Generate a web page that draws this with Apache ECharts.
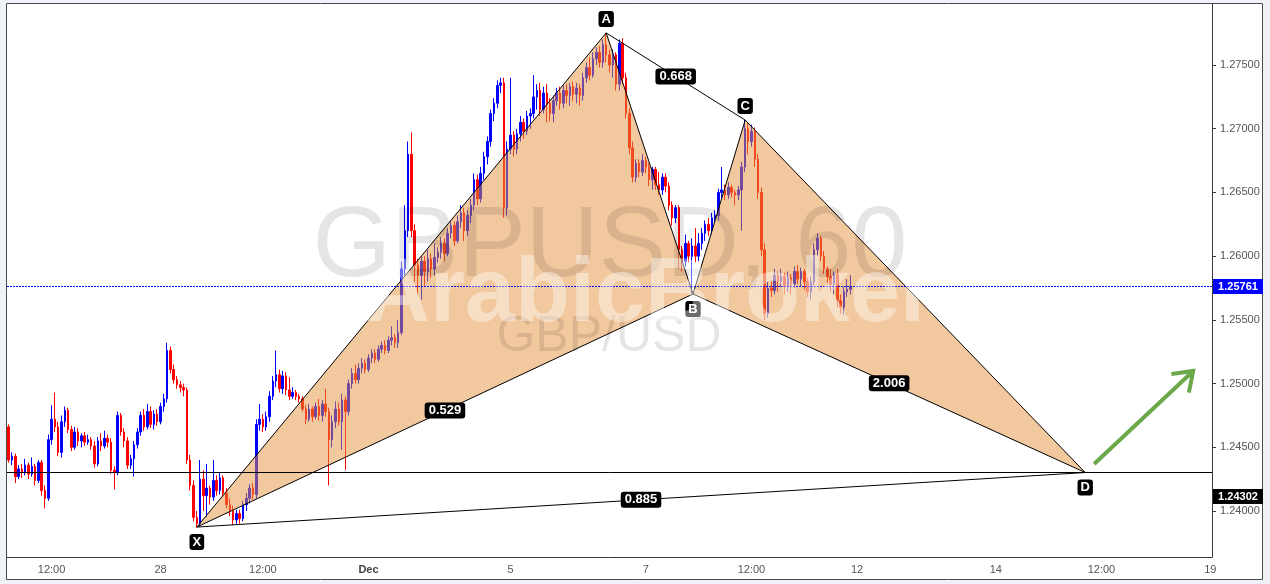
<!DOCTYPE html>
<html><head><meta charset="utf-8">
<script src="https://cdn.jsdelivr.net/npm/echarts@6/dist/echarts.min.js"></script>
<style>html,body{margin:0;padding:0;background:#eff2f6;}#c{width:1270px;height:584px;}</style>
</head><body><div id="c"></div>
<script>
// ---------- data ----------
const slotCount = 365;
const categories = Array.from({length: slotCount}, (_, i) => String(i));
const tickIndex  = [13, 46, 77, 109, 152, 193, 225, 257, 299, 331, 364];
const tickLabels = ['12:00', '28', '12:00', 'Dec', '5', '7', '12:00', '12', '14', '12:00', '19'];
const priceTicks = [1.240, 1.245, 1.250, 1.255, 1.260, 1.265, 1.270, 1.275];
const priceMin = 1.23639, priceMax = 1.27979;
const lastPrice = 1.25761;
const levelD = 1.24302;
// candles: [open, close, low, high]
const candles = [
[1.2466,1.2440,1.2438,1.2468],[1.2440,1.2443,1.2436,1.2446],[1.2443,1.2427,1.2422,1.2445],[1.2427,1.2433,1.2425,1.2436],[1.2433,1.2430,1.2426,1.2437],
[1.2430,1.2436,1.2428,1.2441],[1.2436,1.2429,1.2425,1.2438],[1.2429,1.2435,1.2427,1.2442],[1.2435,1.2424,1.2420,1.2437],[1.2424,1.2438,1.2422,1.2440],
[1.2438,1.2416,1.2412,1.2440],[1.2416,1.2410,1.2402,1.2420],[1.2410,1.2456,1.2408,1.2460],[1.2456,1.2472,1.2452,1.2483],[1.2472,1.2466,1.2462,1.2493],
[1.2466,1.2446,1.2443,1.2470],[1.2446,1.2470,1.2442,1.2475],[1.2470,1.2479,1.2466,1.2482],[1.2479,1.2464,1.2461,1.2481],[1.2464,1.2450,1.2447,1.2467],
[1.2450,1.2462,1.2448,1.2466],[1.2462,1.2455,1.2451,1.2465],[1.2455,1.2459,1.2450,1.2461],[1.2459,1.2454,1.2451,1.2462],[1.2454,1.2456,1.2452,1.2460],
[1.2456,1.2451,1.2448,1.2458],[1.2451,1.2437,1.2434,1.2455],[1.2437,1.2455,1.2435,1.2458],[1.2455,1.2451,1.2447,1.2461],[1.2451,1.2457,1.2449,1.2463],
[1.2457,1.2454,1.2450,1.2460],[1.2454,1.2432,1.2429,1.2457],[1.2432,1.2430,1.2417,1.2435],[1.2430,1.2475,1.2428,1.2478],[1.2475,1.2462,1.2459,1.2477],
[1.2462,1.2455,1.2450,1.2465],[1.2455,1.2436,1.2433,1.2458],[1.2436,1.2441,1.2433,1.2444],[1.2441,1.2452,1.2427,1.2455],[1.2452,1.2462,1.2449,1.2465],
[1.2462,1.2475,1.2459,1.2478],[1.2475,1.2466,1.2463,1.2480],[1.2466,1.2478,1.2464,1.2484],[1.2478,1.2468,1.2465,1.2482],[1.2468,1.2476,1.2464,1.2479],
[1.2476,1.2470,1.2467,1.2480],[1.2470,1.2482,1.2468,1.2485],[1.2482,1.2488,1.2478,1.2492],[1.2488,1.2526,1.2485,1.2532],[1.2526,1.2511,1.2508,1.2529],
[1.2511,1.2503,1.2500,1.2515],[1.2503,1.2499,1.2496,1.2506],[1.2499,1.2497,1.2493,1.2502],[1.2497,1.2495,1.2490,1.2500],[1.2495,1.2440,1.2437,1.2497],
[1.2440,1.2420,1.2416,1.2444],[1.2420,1.2395,1.2392,1.2424],[1.2395,1.2390,1.2387,1.2400],[1.2390,1.2425,1.2388,1.2440],[1.2425,1.2412,1.2400,1.2432],
[1.2412,1.2418,1.2395,1.2437],[1.2418,1.2411,1.2405,1.2420],[1.2411,1.2424,1.2408,1.2440],[1.2424,1.2416,1.2412,1.2428],[1.2416,1.2426,1.2413,1.2430],
[1.2426,1.2414,1.2411,1.2428],[1.2414,1.2405,1.2402,1.2418],[1.2405,1.2400,1.2396,1.2410],[1.2400,1.2393,1.2389,1.2404],[1.2393,1.2398,1.2390,1.2401],
[1.2398,1.2394,1.2390,1.2401],[1.2394,1.2405,1.2392,1.2408],[1.2405,1.2410,1.2400,1.2414],[1.2410,1.2418,1.2406,1.2421],[1.2418,1.2413,1.2409,1.2422],
[1.2413,1.2468,1.2410,1.2472],[1.2468,1.2472,1.2463,1.2484],[1.2472,1.2466,1.2462,1.2476],[1.2466,1.2474,1.2463,1.2478],[1.2474,1.2490,1.2470,1.2494],
[1.2490,1.2502,1.2487,1.2506],[1.2502,1.2507,1.2497,1.2526],[1.2507,1.2496,1.2493,1.2511],[1.2496,1.2506,1.2492,1.2510],[1.2506,1.2495,1.2491,1.2509],
[1.2495,1.2490,1.2487,1.2505],[1.2490,1.2493,1.2488,1.2497],[1.2493,1.2490,1.2487,1.2495],[1.2490,1.2488,1.2485,1.2492],[1.2488,1.2480,1.2478,1.2490],
[1.2480,1.2472,1.2468,1.2483],[1.2472,1.2480,1.2470,1.2484],[1.2480,1.2474,1.2470,1.2482],[1.2474,1.2482,1.2472,1.2485],[1.2482,1.2475,1.2471,1.2488],
[1.2475,1.2484,1.2470,1.2487],[1.2484,1.2478,1.2474,1.2496],[1.2478,1.2456,1.2420,1.2481],[1.2456,1.2470,1.2450,1.2475],[1.2470,1.2480,1.2465,1.2486],
[1.2480,1.2470,1.2467,1.2485],[1.2470,1.2487,1.2448,1.2492],[1.2487,1.2478,1.2432,1.2490],[1.2478,1.2500,1.2475,1.2503],[1.2500,1.2508,1.2496,1.2512],
[1.2508,1.2503,1.2500,1.2515],[1.2503,1.2512,1.2500,1.2516],[1.2512,1.2516,1.2508,1.2520],[1.2516,1.2511,1.2508,1.2519],[1.2511,1.2520,1.2509,1.2523],
[1.2520,1.2524,1.2516,1.2527],[1.2524,1.2519,1.2516,1.2527],[1.2519,1.2527,1.2517,1.2530],[1.2527,1.2530,1.2524,1.2533],[1.2530,1.2526,1.2523,1.2534],
[1.2526,1.2534,1.2524,1.2537],[1.2534,1.2536,1.2530,1.2545],[1.2536,1.2532,1.2528,1.2539],[1.2532,1.2540,1.2528,1.2550],[1.2540,1.2590,1.2538,1.2596],
[1.2590,1.2620,1.2585,1.2640],[1.2620,1.2680,1.2615,1.2690],[1.2680,1.2620,1.2615,1.2697],[1.2620,1.2593,1.2580,1.2625],[1.2593,1.2585,1.2570,1.2598],
[1.2585,1.2596,1.2566,1.2600],[1.2596,1.2588,1.2577,1.2600],[1.2588,1.2598,1.2580,1.2605],[1.2598,1.2590,1.2583,1.2602],[1.2590,1.2599,1.2585,1.2610],
[1.2599,1.2603,1.2595,1.2607],[1.2603,1.2610,1.2598,1.2615],[1.2610,1.2602,1.2596,1.2614],[1.2602,1.2618,1.2600,1.2622],[1.2618,1.2624,1.2614,1.2628],
[1.2624,1.2612,1.2608,1.2627],[1.2612,1.2627,1.2610,1.2632],[1.2627,1.2634,1.2622,1.2640],[1.2634,1.2620,1.2612,1.2638],[1.2620,1.2632,1.2616,1.2636],
[1.2632,1.2640,1.2626,1.2645],[1.2640,1.2660,1.2636,1.2665],[1.2660,1.2645,1.2640,1.2664],[1.2645,1.2665,1.2642,1.2670],[1.2665,1.2678,1.2660,1.2682],
[1.2678,1.2690,1.2672,1.2694],[1.2690,1.2712,1.2686,1.2715],[1.2712,1.2720,1.2706,1.2724],[1.2720,1.2734,1.2716,1.2738],[1.2734,1.2736,1.2728,1.2740],
[1.2736,1.2638,1.2630,1.2740],[1.2638,1.2684,1.2632,1.2690],[1.2684,1.2695,1.2680,1.2740],[1.2695,1.2684,1.2678,1.2698],[1.2684,1.2696,1.2680,1.2700],
[1.2696,1.2705,1.2690,1.2710],[1.2705,1.2698,1.2692,1.2708],[1.2698,1.2710,1.2695,1.2714],[1.2710,1.2712,1.2700,1.2716],[1.2712,1.2725,1.2708,1.2742],
[1.2725,1.2730,1.2715,1.2735],[1.2730,1.2715,1.2710,1.2736],[1.2715,1.2728,1.2712,1.2733],[1.2728,1.2720,1.2705,1.2735],[1.2720,1.2712,1.2706,1.2724],
[1.2712,1.2722,1.2705,1.2726],[1.2722,1.2728,1.2718,1.2732],[1.2728,1.2720,1.2715,1.2733],[1.2720,1.2730,1.2716,1.2734],[1.2730,1.2726,1.2720,1.2735],
[1.2726,1.2733,1.2718,1.2736],[1.2733,1.2727,1.2722,1.2737],[1.2727,1.2732,1.2720,1.2736],[1.2732,1.2726,1.2718,1.2735],[1.2726,1.2740,1.2722,1.2744],
[1.2740,1.2748,1.2736,1.2752],[1.2748,1.2742,1.2738,1.2756],[1.2742,1.2755,1.2740,1.2760],[1.2755,1.2760,1.2750,1.2764],[1.2760,1.2752,1.2748,1.2765],
[1.2752,1.2766,1.2748,1.2770],[1.2766,1.2758,1.2752,1.2775],[1.2758,1.2750,1.2744,1.2762],[1.2750,1.2758,1.2740,1.2762],[1.2758,1.2735,1.2730,1.2760],
[1.2735,1.2767,1.2730,1.2770],[1.2767,1.2740,1.2735,1.2771],[1.2740,1.2712,1.2708,1.2744],[1.2712,1.2685,1.2680,1.2716],[1.2685,1.2662,1.2658,1.2690],
[1.2662,1.2673,1.2658,1.2676],[1.2673,1.2666,1.2662,1.2676],[1.2666,1.2675,1.2663,1.2680],[1.2675,1.2670,1.2665,1.2678],[1.2670,1.2660,1.2655,1.2673],
[1.2660,1.2668,1.2652,1.2670],[1.2668,1.2656,1.2652,1.2670],[1.2656,1.2652,1.2648,1.2666],[1.2652,1.2662,1.2648,1.2665],[1.2662,1.2655,1.2650,1.2665],
[1.2655,1.2640,1.2636,1.2658],[1.2640,1.2630,1.2624,1.2643],[1.2630,1.2638,1.2626,1.2640],[1.2638,1.2605,1.2590,1.2640],[1.2605,1.2596,1.2588,1.2608],
[1.2596,1.2610,1.2592,1.2617],[1.2610,1.2600,1.2595,1.2612],[1.2600,1.2608,1.2571,1.2614],[1.2608,1.2600,1.2595,1.2622],[1.2600,1.2610,1.2596,1.2618],
[1.2610,1.2618,1.2605,1.2622],[1.2618,1.2625,1.2612,1.2628],[1.2625,1.2620,1.2616,1.2630],[1.2620,1.2630,1.2617,1.2634],[1.2630,1.2632,1.2626,1.2636],
[1.2632,1.2650,1.2628,1.2653],[1.2650,1.2652,1.2645,1.2670],[1.2652,1.2648,1.2644,1.2656],[1.2648,1.2654,1.2645,1.2658],[1.2654,1.2650,1.2646,1.2656],
[1.2650,1.2648,1.2640,1.2652],[1.2648,1.2652,1.2644,1.2655],[1.2652,1.2670,1.2620,1.2674],[1.2670,1.2700,1.2666,1.2707],[1.2700,1.2690,1.2680,1.2705],
[1.2690,1.2698,1.2686,1.2703],[1.2698,1.2676,1.2670,1.2701],[1.2676,1.2650,1.2645,1.2680],[1.2650,1.2605,1.2600,1.2654],[1.2605,1.2555,1.2550,1.2610],
[1.2555,1.2575,1.2552,1.2580],[1.2575,1.2573,1.2568,1.2580],[1.2573,1.2585,1.2570,1.2590],[1.2585,1.2580,1.2572,1.2588],[1.2580,1.2584,1.2576,1.2590],
[1.2584,1.2576,1.2570,1.2587],[1.2576,1.2583,1.2572,1.2588],[1.2583,1.2578,1.2570,1.2586],[1.2578,1.2588,1.2575,1.2592],[1.2588,1.2582,1.2578,1.2593],
[1.2582,1.2588,1.2576,1.2591],[1.2588,1.2580,1.2574,1.2590],[1.2580,1.2572,1.2568,1.2583],[1.2572,1.2580,1.2566,1.2584],[1.2580,1.2605,1.2577,1.2610],
[1.2605,1.2614,1.2600,1.2618],[1.2614,1.2600,1.2596,1.2616],[1.2600,1.2590,1.2586,1.2604],[1.2590,1.2584,1.2578,1.2592],[1.2584,1.2578,1.2572,1.2590],
[1.2578,1.2586,1.2570,1.2588],[1.2586,1.2565,1.2560,1.2590],[1.2565,1.2560,1.2555,1.2570],[1.2560,1.2572,1.2554,1.2576],[1.2572,1.2574,1.2568,1.2582],
[1.2574,1.25761,1.2570,1.2585]
];
// harmonic pattern points (slot index, price)
const patternNames = ['X', 'A', 'B', 'C', 'D'];
const patternIndex = [57, 181, 207.3, 223.1, 326.1];
const patternPrice = [1.23874, 1.27752, 1.25703, 1.27068, 1.24302];
const patternLabelAbove = [false, true, false, true, false];
const ratioPairs  = [[0, 2], [1, 3], [2, 4], [0, 4]];
const ratioLabels = ['0.529', '0.668', '2.006', '0.885'];
const arrowFrom = [328.8, 1.24369];
const arrowTo   = [358.8, 1.25099];

// ---------- chart ----------
const FONT = '"Liberation Sans", Arial, sans-serif';
const chart = echarts.init(document.getElementById('c'), null, {renderer: 'canvas'});

function toPt(api, xi, price) {
  const f = Math.floor(xi);
  const a = api.coord([f, price]);
  const b = api.coord([f + 1, price]);
  return [a[0] + (xi - f) * (b[0] - a[0]), a[1]];
}

function renderPattern(params, api) {
  const P = patternIndex.map((x, k) => toPt(api, x, patternPrice[k]));
  const [X, A, B, C, D] = P;
  const fill = 'rgba(229,145,61,0.5)';
  const ch = [
    {type: 'polygon', shape: {points: [X, A, B]}, style: {fill: fill, stroke: '#000', lineWidth: 1}},
    {type: 'polygon', shape: {points: [B, C, D]}, style: {fill: fill, stroke: '#000', lineWidth: 1}},
    {type: 'line', shape: {x1: A[0], y1: A[1], x2: C[0], y2: C[1]}, style: {stroke: '#000', lineWidth: 1}},
    {type: 'line', shape: {x1: X[0], y1: X[1], x2: D[0], y2: D[1]}, style: {stroke: '#000', lineWidth: 1}}
  ];
  ratioPairs.forEach((pr, k) => {
    const p = P[pr[0]], q = P[pr[1]];
    ch.push({type: 'text', x: (p[0] + q[0]) / 2, y: (p[1] + q[1]) / 2,
      style: {text: ratioLabels[k], fill: '#fff', font: 'bold 13px ' + FONT, align: 'center', verticalAlign: 'middle',
        backgroundColor: '#000', padding: [2, 4, 1, 4], borderRadius: 3}});
  });
  P.forEach((p, k) => {
    ch.push({type: 'text', x: p[0], y: p[1] + (patternLabelAbove[k] ? -14 : 15),
      style: {text: patternNames[k], fill: '#fff', font: 'bold 13px ' + FONT, align: 'center', verticalAlign: 'middle',
        backgroundColor: '#000', padding: [2, 3, 1, 3], borderRadius: 3}});
  });
  // green arrow
  const s = toPt(api, arrowFrom[0], arrowFrom[1]);
  const t = toPt(api, arrowTo[0], arrowTo[1]);
  const ang = Math.atan2(t[1] - s[1], t[0] - s[0]);
  const L = 22, sp = 0.62;
  const w1 = [t[0] - L * Math.cos(ang - sp), t[1] - L * Math.sin(ang - sp)];
  const w2 = [t[0] - L * Math.cos(ang + sp), t[1] - L * Math.sin(ang + sp)];
  const green = '#6aa84a';
  ch.push({type: 'line', shape: {x1: s[0], y1: s[1], x2: t[0], y2: t[1]}, style: {stroke: green, lineWidth: 4}});
  ch.push({type: 'polyline', shape: {points: [w1, t, w2]}, style: {stroke: green, lineWidth: 4, fill: null, lineJoin: 'miter'}});
  return {type: 'group', children: ch};
}

const option = {
  animation: false,
  backgroundColor: '#eff2f6',
  grid: {left: 7, right: 58, top: 4, bottom: 27, containLabel: false},
  xAxis: {
    type: 'category', data: categories, boundaryGap: true,
    axisLine: {lineStyle: {color: '#3a3a3a', width: 1}},
    axisTick: {alignWithLabel: true, length: 4, interval: (i) => tickIndex.includes(i), lineStyle: {color: '#3a3a3a'}},
    axisLabel: {
      interval: (i) => tickIndex.includes(i), color: '#555', fontSize: 11, fontFamily: FONT, margin: 7,
      formatter: (v, i) => { const k = tickIndex.indexOf(+v); const t = k >= 0 ? tickLabels[k] : ''; return t === 'Dec' ? '{b|Dec}' : t; },
      rich: {b: {fontWeight: 'bold', color: '#444', fontSize: 11, fontFamily: FONT}}
    },
    splitLine: {show: false}
  },
  yAxis: {
    type: 'value', position: 'right', min: priceMin, max: priceMax, scale: true,
    axisLine: {show: true, lineStyle: {color: '#3a3a3a'}},
    axisTick: {show: true, length: 4, customValues: priceTicks, lineStyle: {color: '#3a3a3a'}},
    axisLabel: {customValues: priceTicks, color: '#555', fontSize: 11, fontFamily: FONT, margin: 8, formatter: (v) => v.toFixed(5)},
    splitLine: {show: false}
  },
  graphic: [
    {type: 'rect', z: -10, shape: {x: 6.5, y: 3.5, width: 1256, height: 576}, style: {fill: '#fff', stroke: '#4a4a4a', lineWidth: 1}},
    {type: 'text', z: 100, x: 610, y: 248, style: {text: 'GBPUSD, 60', font: '101px ' + FONT, fill: 'rgba(0,0,0,0.1)', align: 'center', verticalAlign: 'middle'}},
    {type: 'text', z: 101, x: 650, y: 296, style: {text: 'ArabicBroker', font: 'bold 90px ' + FONT, fill: 'rgba(255,255,255,0.42)', align: 'center', verticalAlign: 'middle'}},
    {type: 'text', z: 100, x: 609, y: 337, style: {text: 'GBP/USD', font: '50px ' + FONT, fill: 'rgba(0,0,0,0.1)', align: 'center', verticalAlign: 'middle'}}
  ],
  series: [
    {
      type: 'candlestick', data: candles, barWidth: 2, z: 2,
      itemStyle: {color: '#0000ff', color0: '#ff0000', borderColor: '#0000ff', borderColor0: '#ff0000', borderWidth: 1},
      markLine: {
        silent: true, symbol: ['none', 'none'], animation: false, precision: 5,
        label: {show: false},
        data: [
          {yAxis: lastPrice, lineStyle: {color: '#0000ff', type: [2, 1], width: 1}},
          {yAxis: levelD, lineStyle: {color: '#000', type: 'solid', width: 1}}
        ]
      }
    },
    {type: 'custom', renderItem: renderPattern, data: [[0, 1.25]], z: 3, silent: true, clip: false}
  ]
};
chart.setOption(option);

// price tags on the right axis
const yLast = chart.convertToPixel({yAxisIndex: 0}, lastPrice);
const yD = chart.convertToPixel({yAxisIndex: 0}, levelD);
function tag(y, txt, color) {
  return [
    {type: 'rect', z: 120, shape: {x: 1213, y: y - 7.5, width: 50, height: 15}, style: {fill: color}},
    {type: 'text', z: 121, x: 1238, y: y, style: {text: txt, fill: '#fff', font: 'bold 11px ' + FONT, align: 'center', verticalAlign: 'middle'}}
  ];
}
chart.setOption({graphic: option.graphic.concat(tag(yLast, lastPrice.toFixed(5), '#0000ff'), tag(yD + 24, levelD.toFixed(5), '#000'))});
</script></body></html>
